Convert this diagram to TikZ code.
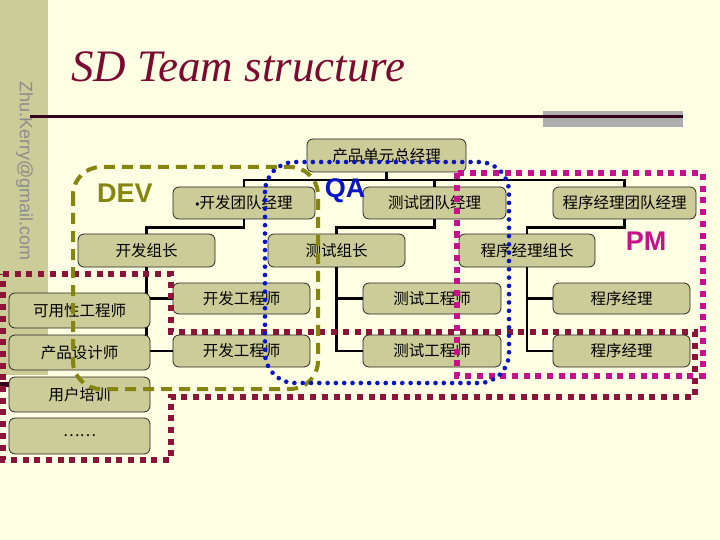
\documentclass[tikz,border=0pt]{standalone}
\usepackage{fontspec}
\setmainfont{Liberation Serif}
\newfontfamily\cjk{Noto Sans CJK SC}
\newfontfamily\arialf{Liberation Sans}
\definecolor{bgc}{HTML}{FFFFE3}
\definecolor{boxc}{HTML}{CCCC99}
\definecolor{titlec}{HTML}{7A0A30}
\definecolor{linec}{HTML}{330019}
\definecolor{grayr}{HTML}{AEAEAE}
\definecolor{mailc}{HTML}{8C8C8C}
\definecolor{olivec}{HTML}{858510}
\definecolor{bluec}{HTML}{0A14C8}
\definecolor{magc}{HTML}{C8108C}
\definecolor{redc}{HTML}{8C1438}
\begin{document}
\begin{tikzpicture}[x=1pt,y=-1pt,
  box/.style={draw=black!85, line width=0.8pt, fill=boxc, rounded corners=6pt,
    inner sep=0pt, minimum height=32pt, text=black, font=\cjk\fontsize{15.5}{15.5}\selectfont},
  conn/.style={line width=2.6pt, draw=black},
  devline/.style={draw=olivec, line width=4pt, dash pattern=on 11pt off 7pt, rounded corners=28pt},
  qaline/.style={draw=bluec, line width=4.6pt, dash pattern=on 0pt off 8.3pt, line cap=round, rounded corners=30pt},
  pmline/.style={draw=magc, line width=6pt, dash pattern=on 6pt off 5.7pt},
  uxline/.style={draw=redc, line width=6pt, dash pattern=on 6pt off 5.7pt},
  grplabel/.style={font=\arialf\bfseries\fontsize{27}{27}\selectfont, inner sep=0pt}]
\useasboundingbox (0,0) rectangle (720,540);
\fill[bgc] (0,0) rectangle (720,540);
% template
\fill[boxc] (0,0) rectangle (48,375);
\fill[linec] (0,382) rectangle (9,387);
\fill[grayr] (543,111) rectangle (683,127);
\draw[linec, line width=3pt] (30,116.5) -- (683,116.5);
\node[anchor=base west, inner sep=0pt, text=titlec, font=\itshape\fontsize{45}{45}\selectfont] (title) at (71,82) {SD Team structure};
\node[rotate=-90, inner sep=0pt, text=mailc, font=\arialf\fontsize{18}{18}\selectfont] (mail) at (24.5,171) {Zhu.Kerry@gmail.com};
% tree nodes
\node[box, minimum width=159pt, minimum height=33pt] (top) at (386.5,155.5) {产品单元总经理};
\node[box, minimum width=142pt] (devm) at (244,203) {{\arialf\fontsize{12}{12}\selectfont •}开发团队经理};
\node[box, minimum width=143pt] (qam) at (434.5,203) {测试团队经理};
\node[box, minimum width=143pt] (pmm) at (624.5,203) {程序经理团队经理};
\node[box, minimum width=137pt, minimum height=33pt] (devl) at (146.5,250.5) {开发组长};
\node[box, minimum width=137pt, minimum height=33pt] (qal) at (336.5,250.5) {测试组长};
\node[box, minimum width=136pt, minimum height=33pt] (pml) at (527,250.5) {程序经理组长};
\node[box, minimum width=137pt, minimum height=31pt] (deve1) at (241.5,298.5) {开发工程师};
\node[box, minimum width=137pt] (deve2) at (241.5,351) {开发工程师};
\node[box, minimum width=138pt, minimum height=31pt] (qae1) at (432,298.5) {测试工程师};
\node[box, minimum width=138pt] (qae2) at (432,351) {测试工程师};
\node[box, minimum width=137pt, minimum height=31pt] (pme1) at (621.5,298.5) {程序经理};
\node[box, minimum width=137pt] (pme2) at (621.5,351) {程序经理};
% connectors
\coordinate (bus) at (0,180);
\draw[conn] (top.south) -- (top.south |- bus);
\draw[conn] (devm.north) -- (devm.north |- bus) -| (pmm.north);
\draw[conn] (qam.north) -- (qam.north |- bus);
\draw[conn] (devm.south) -- ++(0,8) -| (devl.north);
\draw[conn] (qam.south) -- ++(0,8) -| (qal.north);
\draw[conn] (pmm.south) -- ++(0,8) -| (pml.north);
\draw[conn] (devl.south) |- (deve1.west);
\draw[conn] (devl.south) |- (deve2.west);
\draw[conn] (qal.south) |- (qae1.west);
\draw[conn] (qal.south) |- (qae2.west);
\draw[conn] (pml.south) |- (pme1.west);
\draw[conn] (pml.south) |- (pme2.west);
% left column
\node[box, minimum width=141pt, minimum height=35pt] (usab) at (79.5,310.5) {可用性工程师};
\node[box, minimum width=141pt, minimum height=35pt] (prod) at (79.5,352.5) {产品设计师};
\node[box, minimum width=141pt, minimum height=35pt] (train) at (79.5,394.5) {用户培训};
\node[box, minimum width=141pt, minimum height=36pt] (etc) at (79.5,436) {……};
% group outlines
\draw[uxline] (3,274) -- (171,274) -- (171,332) -- (695,332) -- (695,396.5) -- (171,396.5) -- (171,460) -- (3,460) -- cycle;
\draw[pmline] (457,173) rectangle (702.5,375.5);
\draw[devline] (73,167) rectangle (318,389);
\draw[qaline] (265,162) rectangle (509,383);
% group labels
\node[grplabel, text=olivec] (devlab) at (125,193) {DEV};
\node[grplabel, text=bluec] (qalab) at (345,191) {QA};
\node[grplabel, text=magc] (pmlab) at (646,241) {PM};
\end{tikzpicture}
\end{document}
